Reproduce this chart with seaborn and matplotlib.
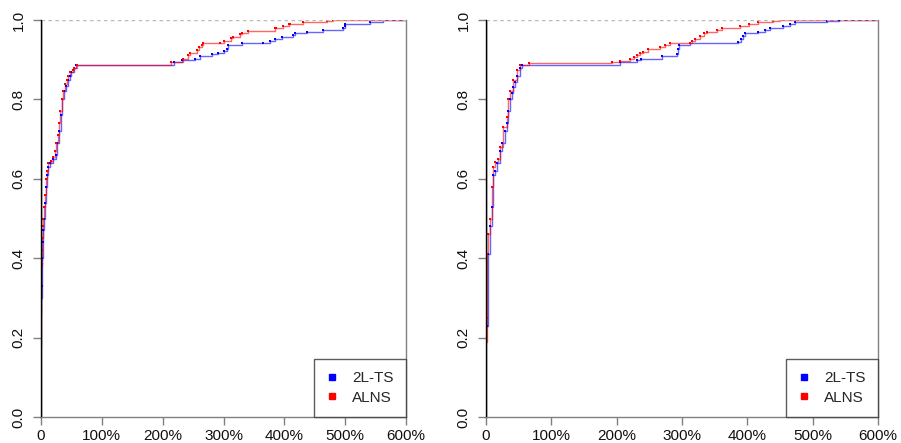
import matplotlib
matplotlib.use('Agg')
import matplotlib.pyplot as plt
import seaborn as sns
import pandas as pd
from matplotlib.lines import Line2D

# ---------------- data (gap %, cumulative fraction at each jump) ----------------
left_2lts_x = [0.3, 0.6, 1.0, 1.5, 2.5, 3.5, 5, 6.5, 8, 10, 12, 15, 20, 24, 27, 30, 33, 35, 38, 41, 44, 47,
               50, 54, 57, 218, 231, 253, 261, 281, 291, 300, 305, 308, 330, 365, 376, 385, 396, 415, 418,
               437, 464, 497, 500, 500, 541, 563]
left_2lts_y = [0.26, 0.30, 0.33, 0.40, 0.44, 0.47, 0.50, 0.54, 0.58, 0.61, 0.63, 0.64, 0.65, 0.66, 0.69, 0.72,
               0.76, 0.80, 0.82, 0.835, 0.85, 0.86, 0.87, 0.88, 0.887, 0.893, 0.899, 0.903, 0.909, 0.914, 0.918,
               0.923, 0.926, 0.937, 0.941, 0.943, 0.948, 0.952, 0.957, 0.962, 0.966, 0.970, 0.974, 0.979, 0.985,
               0.989, 0.994, 1.0]

left_alns_x = [0.0, 0.3, 0.5, 0.8, 1.0, 1.5, 2.5, 4, 5, 6, 8, 10, 12, 17, 20, 23, 25, 28, 30, 32, 34, 36, 39,
               42, 45, 48, 52, 55, 59, 213, 233, 242, 245, 256, 259, 264, 267, 294, 300, 313, 316, 327, 330,
               341, 385, 387, 398, 407, 409, 431, 470, 480]
left_alns_y = [0.18, 0.25, 0.32, 0.38, 0.42, 0.45, 0.48, 0.50, 0.53, 0.56, 0.60, 0.62, 0.64, 0.645, 0.655,
               0.67, 0.69, 0.71, 0.74, 0.77, 0.80, 0.82, 0.84, 0.85, 0.86, 0.87, 0.875, 0.88, 0.887, 0.893,
               0.901, 0.913, 0.918, 0.924, 0.931, 0.938, 0.941, 0.943, 0.947, 0.954, 0.958, 0.964, 0.968,
               0.972, 0.979, 0.981, 0.985, 0.989, 0.991, 0.994, 0.997, 1.0]

right_2lts_x = [1, 3.5, 6, 8.7, 11, 14, 16.5, 21, 24, 29, 32, 34, 37, 40, 42, 45, 47, 52, 55, 205, 231, 238,
                269, 292, 294, 296, 312, 386, 390, 394, 397, 417, 427, 435, 455, 465, 473, 522, 540]
right_2lts_y = [0.23, 0.41, 0.48, 0.53, 0.61, 0.62, 0.64, 0.67, 0.69, 0.72, 0.74, 0.77, 0.80, 0.815, 0.83,
                0.845, 0.86, 0.88, 0.887, 0.893, 0.899, 0.903, 0.909, 0.915, 0.926, 0.937, 0.941, 0.945,
                0.952, 0.960, 0.966, 0.970, 0.975, 0.979, 0.985, 0.989, 0.994, 0.998, 1.0]

right_alns_x = [0.5, 1, 2, 3.5, 6, 8.7, 11, 14, 19, 21, 26.5, 32, 34, 37, 42, 47, 52, 66, 193, 205, 220, 227,
                231, 236, 240, 248, 266, 274, 282, 312, 315, 320, 328, 333, 338, 353, 361, 389, 402, 417,
                440, 450]
right_alns_y = [0.19, 0.25, 0.41, 0.46, 0.50, 0.58, 0.63, 0.643, 0.65, 0.68, 0.73, 0.756, 0.80, 0.82, 0.85,
                0.875, 0.887, 0.891, 0.893, 0.897, 0.901, 0.906, 0.912, 0.916, 0.920, 0.927, 0.933, 0.937,
                0.941, 0.943, 0.947, 0.952, 0.960, 0.966, 0.970, 0.975, 0.979, 0.985, 0.989, 0.994, 0.998, 1.0]

series_names = ['2L-TS', 'ALNS']
series_colors = ['#0000FF', '#FF0000']
x_ticks = [0, 100, 200, 300, 400, 500, 600]
x_tick_labels = ['0', '100%', '200%', '300%', '400%', '500%', '600%']
y_ticks = [0.0, 0.2, 0.4, 0.6, 0.8, 1.0]
y_tick_labels = ['0.0', '0.2', '0.4', '0.6', '0.8', '1.0']
XMAX = 600

# ---------------- style ----------------
sns.set_theme(style='white')
plt.rcParams['font.family'] = ['Liberation Sans', 'DejaVu Sans']

fig = plt.figure(figsize=(9.01, 4.43), dpi=100)
W, H = 901, 443
axL = fig.add_axes([41 / W, 1 - 417 / H, 365 / W, 397 / H])
axR = fig.add_axes([486 / W, 1 - 417 / H, 392 / W, 397 / H])


def draw_panel(ax, data):
    for (xs, ys), name, col in zip(data, series_names, series_colors):
        df = pd.DataFrame({'x': list(xs) + [XMAX], 'y': list(ys) + [ys[-1]]})
        sns.lineplot(data=df, x='x', y='y', drawstyle='steps-post', color=col, alpha=0.6,
                     linewidth=1.0, estimator=None, sort=False, ax=ax, zorder=2)
        sns.scatterplot(x=xs, y=ys, marker='s', s=2.5, color=col, linewidth=0, ax=ax, zorder=3)
    ax.axhline(1.0, color='#b8b8b8', linestyle=(0, (2.5, 2.5)), linewidth=1, zorder=4)
    ax.axvline(0, color='black', linewidth=1, zorder=5)
    ax.set_xlim(0, XMAX)
    ax.set_ylim(0, 1)
    ax.set_xlabel('')
    ax.set_ylabel('')
    ax.set_xticks(x_ticks)
    ax.set_xticklabels(x_tick_labels)
    ax.set_yticks(y_ticks)
    ax.set_yticklabels(y_tick_labels, rotation=90, va='center')
    ax.tick_params(axis='both', which='major', direction='out', length=6, width=1,
                   color='#808080', labelsize=11, labelcolor='#111111', bottom=True, left=True)
    ax.tick_params(axis='x', pad=3)
    ax.tick_params(axis='y', pad=5)
    ax.spines['top'].set_visible(False)
    ax.spines['left'].set_color('black')
    ax.spines['left'].set_linewidth(1)
    for s in ['bottom', 'right']:
        ax.spines[s].set_color('#808080')
        ax.spines[s].set_linewidth(1)
    handles = [Line2D([], [], marker='s', linestyle='', color=c, markersize=5) for c in series_colors]
    leg = ax.legend(handles, series_names, loc='lower right', borderaxespad=0, frameon=True,
                    fancybox=False, edgecolor='#333333', fontsize=11, handlelength=0.8,
                    handletextpad=0.9, borderpad=0.8, labelspacing=0.35)
    leg.get_frame().set_linewidth(1)
    leg.set_zorder(10)


draw_panel(axL, [(left_2lts_x, left_2lts_y), (left_alns_x, left_alns_y)])
draw_panel(axR, [(right_2lts_x, right_2lts_y), (right_alns_x, right_alns_y)])

fig.savefig('out.png', dpi=100)
